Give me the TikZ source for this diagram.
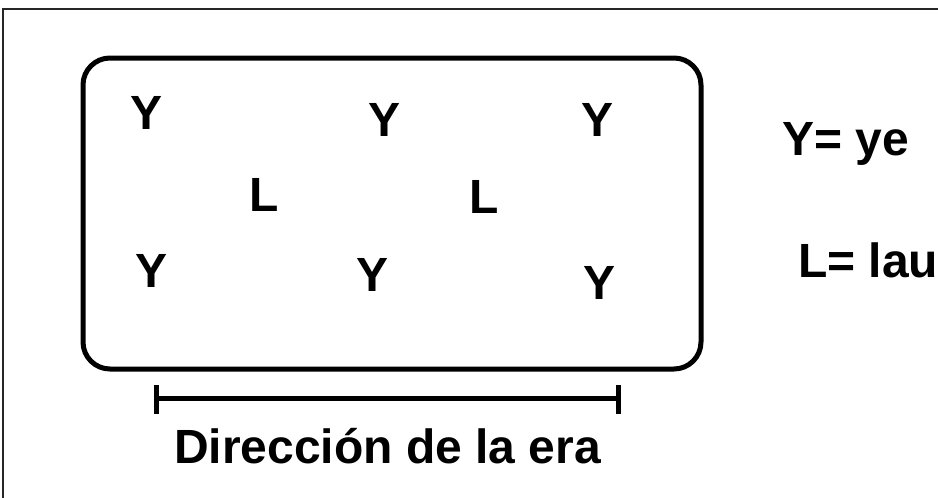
\documentclass[tikz,border=0pt]{standalone}
\usepackage{fontspec}
\setmainfont{Liberation Sans}
\usepackage{tikz}
\usetikzlibrary{arrows,shapes}
\usetikzlibrary{positioning}
\tikzstyle{letra} = [inner sep=0pt, anchor=base, font=\bfseries\fontsize{48}{56}\selectfont]
\tikzstyle{leyenda} = [letra, anchor=base west]
\tikzstyle{marco} = [draw, line width=5pt, rounded corners=27pt]

\begin{document}
\begin{tikzpicture}[x=1pt, y=-1pt]
  \useasboundingbox (0,0) rectangle (938,498);
  \clip (0,0) rectangle (938,498);
  \draw [line width=1.6pt, black!85] (3,9) rectangle (960,520);
  % parcela
  \draw [marco] (83,58) rectangle (701,369);
  \node [letra] (y1) at (147,129) {Y};
  \node [letra] (y2) at (385,136) {Y};
  \node [letra] (y3) at (598,136) {Y};
  \node [letra] (l1) at (264,211) {L};
  \node [letra] (l2) at (484,213) {L};
  \node [letra] (y4) at (152,287) {Y};
  \node [letra] (y5) at (373,291) {Y};
  \node [letra] (y6) at (600,299) {Y};
  % leyenda
  \node [leyenda] (ley1) at (782,155) {Y= ye};
  \node [leyenda] (ley2) at (798,277) {L= lau};
  % direccion
  \coordinate (izq) at (156,398);
  \coordinate (der) at (618,398);
  \draw [line width=5pt] (izq) -- (der);
  \draw [line width=5pt] ([yshift=-16pt]izq) -- ([yshift=13pt]izq);
  \draw [line width=5pt] ([yshift=-16pt]der) -- ([yshift=13pt]der);
  \node [leyenda] (dir) at (174,463) {Dirección de la era};
\end{tikzpicture}
\end{document}
